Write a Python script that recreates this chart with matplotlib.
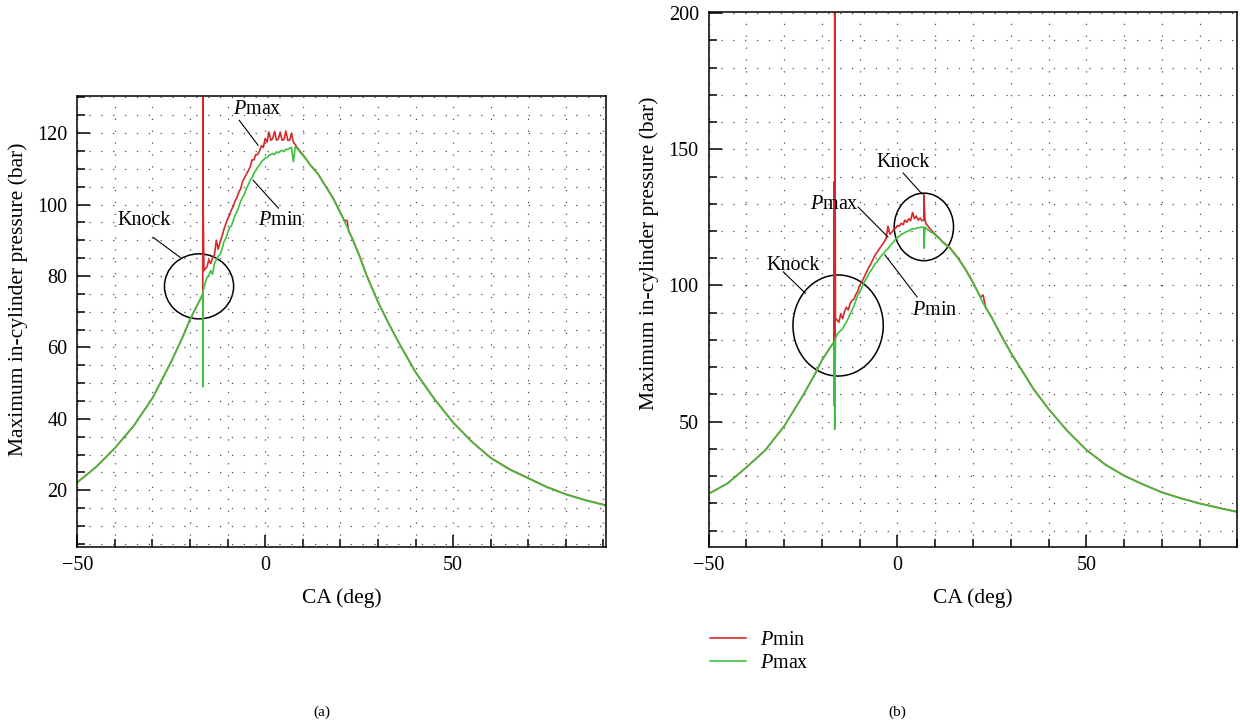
import matplotlib
matplotlib.use("Agg")
import matplotlib.pyplot as plt
from matplotlib.patches import Ellipse
from matplotlib.ticker import MultipleLocator

plt.rcParams['font.family'] = ['Liberation Serif', 'DejaVu Serif']
plt.rcParams['mathtext.fontset'] = 'custom'
plt.rcParams['mathtext.rm'] = 'Liberation Serif'
plt.rcParams['mathtext.it'] = 'Liberation Serif:italic'

RED = '#d42a2a'
GREEN = '#3ec23e'

# (a) crank angle and peak pressure traces
ca_a = [-50, -45, -40, -35, -30, -25, -22, -20, -18, -17,
        -16.6, -16.6, -16.5, -16.5, -16.3, -16.0, -15.5, -15.0, -14.5, -14.0,
        -13.5, -13.0, -12.5, -12.0, -11.5, -11.0, -10.5, -10.0, -9.5, -9.0,
        -8.5, -8.0, -7.5, -7.0, -6.5, -6.0, -5.5, -5.0, -4.5, -4.0,
        -3.5, -3.0, -2.5, -2.0, -1.5, -1.0, -0.5, 0.0, 0.5, 1.0,
        1.5, 2.0, 2.5, 3.0, 3.5, 4.0, 4.5, 5.0, 5.5, 6.0,
        6.5, 7.0, 7.5, 8.0, 8.5, 9.0, 10, 11, 12, 14,
        16, 18, 20, 21, 21.8, 22.2, 23, 25, 27, 30,
        33, 36, 40, 45, 50, 55, 60, 65, 70, 75,
        80, 85, 90.7]
pmin_a = [22.2, 26.5, 31.8, 38.0, 45.8, 56.0, 62.8, 67.8, 72.0, 74.0,
          75.0, 133.0, 82.0, 100.0, 81.5, 82.0, 82.5, 84.5, 83.5, 85.0,
          86.0, 90.0, 87.5, 89.5, 91.0, 93.0, 94.5, 96.0, 97.0, 98.5,
          99.5, 101.0, 102.0, 103.5, 104.5, 106.5, 107.5, 108.5, 109.5, 110.5,
          112.5, 112.5, 114.0, 114.0, 115.0, 116.5, 116.0, 118.5, 117.5, 120.3,
          118.0, 118.5, 120.5, 118.0, 118.3, 120.3, 118.0, 118.2, 120.6, 118.0,
          118.0, 120.0, 117.5, 116.8, 116.0, 115.3, 114.0, 112.6, 111.1, 108.7,
          105.3, 102.0, 97.8, 95.6, 95.5, 92.5, 91.0, 85.9, 80.2, 72.8,
          66.4, 60.5, 53.1, 45.6, 39.0, 33.6, 29.1, 25.9, 23.4, 20.9,
          18.9, 17.3, 15.8]
pmax_a = [22.2, 26.5, 31.8, 38.0, 45.8, 56.0, 62.8, 67.8, 72.0, 74.0,
          75.0, 49.0, 74.0, 76.0, 76.5, 78.0, 79.5, 80.2, 81.5, 80.5,
          83.5, 84.5, 85.5, 86.0, 87.5, 89.5, 90.5, 92.0, 93.5, 94.0,
          95.5, 97.0, 98.0, 99.5, 101.0, 102.0, 103.0, 104.5, 105.5, 106.8,
          107.5, 108.8, 109.5, 110.5, 111.0, 112.0, 112.5, 113.0, 113.2, 113.8,
          114.0, 114.3, 114.0, 114.8, 114.5, 114.9, 115.2, 114.8, 115.5, 115.4,
          115.8, 116.0, 112.0, 116.2, 115.8, 115.0, 113.8, 112.5, 111.0, 108.6,
          105.2, 101.8, 97.6, 95.5, 93.7, 92.8, 90.8, 85.7, 80.0, 72.7,
          66.3, 60.4, 53.0, 45.5, 38.9, 33.5, 29.0, 25.8, 23.3, 20.8,
          18.8, 17.2, 15.7]

# (b)
ca_b = [-50, -45, -40, -35, -30, -25, -22, -20, -18, -17,
        -16.8, -16.8, -16.6, -16.6, -16.4,
        -16.0, -15.5, -15.0, -14.5, -14.0, -13.5, -13.0, -12.5, -12.0, -11.5,
        -11.0, -10.5, -10.0, -9.5, -9.0, -8.5, -8.0, -7.5, -7.0, -6.5,
        -6.0, -5.5, -5.0, -4.5, -4.0, -3.5, -3.0, -2.5, -2.0, -1.5,
        -1.0, -0.5, 0.0, 0.5, 1.0, 1.5, 2.0, 2.5, 3.0, 3.5,
        4.0, 4.5, 5.0, 5.5, 6.0, 6.5, 7.0, 7.0, 7.3, 7.6,
        8.0, 8.5, 9.0, 9.5, 10, 11, 12, 14, 16, 18,
        20, 22, 22.7, 23.3, 25, 27, 30, 33, 36, 40,
        45, 50, 55, 60, 65, 70, 75, 80, 85, 90]
pmin_b = [23.5, 27.3, 33.2, 39.5, 48.3, 59.6, 67.0, 72.5, 76.8, 78.8,
          79.0, 138.0, 79.5, 203.0, 88.0,
          87.3, 86.5, 89.5, 87.8, 90.5, 92.0, 91.0, 93.5, 94.5, 95.0,
          96.8, 97.8, 100.0, 101.2, 102.5, 104.0, 105.5, 106.8, 108.0, 109.5,
          111.0, 112.0, 113.0, 114.0, 115.0, 116.0, 117.3, 121.8, 118.8, 119.5,
          120.5, 121.0, 122.0, 121.8, 122.8, 122.3, 124.0, 123.2, 124.5, 123.8,
          126.8, 124.5, 125.5, 124.0, 124.8, 123.8, 124.0, 133.3, 124.0, 122.5,
          122.0, 121.0, 120.3, 119.5, 118.8, 117.5, 116.0, 113.7, 110.2, 106.0,
          101.2, 95.7, 96.5, 92.2, 88.2, 82.9, 75.4, 68.8, 62.1, 54.7,
          46.6, 39.7, 34.3, 30.2, 27.0, 24.1, 21.9, 20.0, 18.4, 16.9]
pmax_b = [23.5, 27.3, 33.2, 39.5, 48.3, 59.6, 67.0, 72.5, 76.8, 78.8,
          79.0, 56.0, 79.5, 47.2, 80.5,
          82.0, 82.8, 83.5, 84.0, 85.5, 86.5, 88.0, 89.5, 91.0, 92.5,
          94.5, 96.5, 97.5, 99.0, 100.5, 102.0, 103.0, 104.5, 105.5, 106.5,
          107.8, 108.5, 109.5, 110.5, 111.3, 112.0, 113.0, 113.5, 114.5, 115.3,
          116.0, 117.0, 117.8, 118.0, 118.8, 119.0, 119.5, 119.8, 120.0, 120.5,
          120.8, 120.8, 121.0, 121.2, 121.3, 121.4, 121.4, 113.7, 121.4, 121.0,
          120.5, 120.0, 119.5, 119.2, 118.5, 117.3, 115.8, 113.5, 110.0, 105.8,
          101.0, 95.5, 93.5, 92.0, 88.0, 82.7, 75.2, 68.6, 61.9, 54.6,
          46.5, 39.6, 34.2, 30.1, 26.9, 24.0, 21.8, 19.9, 18.3, 16.8]

FS = 14.5


def style_axes(ax, xlim, ylim, ymajor, yminor):
    ax.set_xlim(*xlim)
    ax.set_ylim(*ylim)
    ax.xaxis.set_major_locator(MultipleLocator(50))
    ax.xaxis.set_minor_locator(MultipleLocator(10))
    ax.yaxis.set_major_locator(MultipleLocator(ymajor))
    ax.yaxis.set_minor_locator(MultipleLocator(yminor))
    ax.tick_params(which='both', direction='in', top=False, right=False,
                   labelsize=FS, width=1.1, pad=7)
    ax.tick_params(which='major', length=9)
    ax.tick_params(which='minor', length=6)
    for s in ax.spines.values():
        s.set_linewidth(1.1)
    ax.grid(which='both', linestyle=(0, (1, 8.5)), linewidth=0.9, color='0.3')
    ax.set_xlabel('CA (deg)', fontsize=15.5, labelpad=9)
    ax.set_ylabel('Maximum in-cylinder pressure (bar)', fontsize=15.5, labelpad=7)
    # the label sits a little above the middle of the axis
    ax.yaxis.label.set_y(0.55)


def note(ax, text, xy_text, p0, p1):
    ax.text(*xy_text, text, fontsize=FS, ha='center', va='center')
    ax.plot([p0[0], p1[0]], [p0[1], p1[1]], color='k', lw=0.8)


fig = plt.figure(figsize=(12.4, 7.23), dpi=100)
ax1 = fig.add_axes([0.0623, 0.2439, 0.4265, 0.6233])
ax2 = fig.add_axes([0.5714, 0.2439, 0.4265, 0.7391])

# panel (a)
ax1.plot(ca_a, pmin_a, color=RED, lw=1.2)
ax1.plot(ca_a, pmax_a, color=GREEN, lw=1.2)
style_axes(ax1, (-50, 90.7), (4.2, 130.4), 20, 5)
note(ax1, '$P$max', (-2.1, 126.7), (-6.9, 123.6), (-1.9, 116.6))
note(ax1, '$P$min', (4.0, 95.6), (-3.2, 106.8), (3.5, 99.0))
note(ax1, 'Knock', (-32.2, 95.6), (-29.8, 90.8), (-22.6, 85.2))
ax1.add_patch(Ellipse((-17.6, 77.1), 18.4, 18.2, fill=False, ec='k', lw=1.1))

# panel (b)
l1, = ax2.plot(ca_b, pmin_b, color=RED, lw=1.2)
l2, = ax2.plot(ca_b, pmax_b, color=GREEN, lw=1.2)
style_axes(ax2, (-50, 90), (4.1, 200.3), 50, 10)
note(ax2, 'Knock', (1.5, 145.0), (1.5, 141.3), (6.5, 133.6))
note(ax2, '$P$max', (-16.7, 129.9), (-10.4, 128.8), (-2.5, 117.8))
note(ax2, '$P$min', (9.9, 90.7), (-3.3, 111.2), (5.2, 95.8))
note(ax2, 'Knock', (-27.5, 107.5), (-30.2, 105.0), (-24.4, 97.2))
ax2.add_patch(Ellipse((7.0, 121.5), 15.7, 24.8, fill=False, ec='k', lw=1.1))
ax2.add_patch(Ellipse((-15.7, 85.3), 23.9, 37.1, fill=False, ec='k', lw=1.1))

fig.legend([l1, l2], ['$P$min', '$P$max'], loc='upper left',
           bbox_to_anchor=(0.5726, 0.128), frameon=False, fontsize=FS,
           handlelength=1.8, handletextpad=0.7, labelspacing=0.2,
           borderpad=0, borderaxespad=0)

fig.text(0.2597, 0.015, '(a)', fontsize=11, ha='center', va='center')
fig.text(0.7234, 0.015, '(b)', fontsize=11, ha='center', va='center')

fig.savefig('out.png', dpi=100)
